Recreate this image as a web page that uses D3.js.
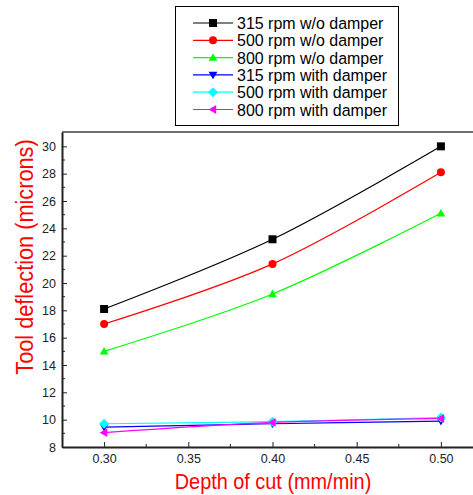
<!DOCTYPE html>
<html>
<head>
<meta charset="utf-8">
<script src="https://cdn.jsdelivr.net/npm/d3@7"></script>
<style>
  body { margin: 0; background: #fff; }
  text { font-family: Arial, "Liberation Sans", sans-serif; }
</style>
</head>
<body>
<div id="chart"></div>
<script>
// depth of cut values on the x axis
var depths = [0.30, 0.40, 0.50];

// series names, in legend order
var seriesNames = ["315 rpm w/o damper", "500 rpm w/o damper", "800 rpm w/o damper",
  "315 rpm with damper", "500 rpm with damper", "800 rpm with damper"];

// tool deflection (microns), one array per series
var rpm315NoDamper = [18.1, 23.2, 30.0];
var rpm500NoDamper = [17.0, 21.4, 28.1];
var rpm800NoDamper = [15.0, 19.2, 25.1];
var rpm315Damper = [9.45, 9.7, 9.9];
var rpm500Damper = [9.7, 9.85, 10.15];
var rpm800Damper = [9.05, 9.8, 10.1];

var xTickValues = [0.30, 0.35, 0.40, 0.45, 0.50];
var yTickValues = [8, 10, 12, 14, 16, 18, 20, 22, 24, 26, 28, 30];

var width = 473;
var height = 495;

// the original uses a narrow font, so text is squeezed a bit
var squeeze = 0.88;

var colors = ["#000000", "#ff0000", "#00ff00", "#0000ff", "#00ffff", "#ff00ff"];
var symbols = ["square", "circle", "triUp", "triDown", "diamond", "triLeft"];
var allValues = [rpm315NoDamper, rpm500NoDamper, rpm800NoDamper, rpm315Damper, rpm500Damper, rpm800Damper];

var series = seriesNames.map(function(name, i) {
  return {
    name: name,
    color: colors[i],
    symbol: symbols[i],
    points: depths.map(function(d, j) { return { x: d, y: allValues[i][j] }; })
  };
});

var svg = d3.select("#chart")
  .append("svg")
  .attr("width", width)
  .attr("height", height);

// scales (plot frame runs past the right edge of the picture)
var xScale = d3.scaleLinear().domain([0.275, 0.525]).range([62, 483]);
var yScale = d3.scaleLinear().domain([8, 31.05]).range([447, 132]);

// frame top
svg.append("line")
  .attr("x1", 62).attr("x2", 483)
  .attr("y1", 132).attr("y2", 132)
  .attr("stroke", "#707070").attr("stroke-width", 2);

// minor ticks
var yMinor = d3.range(9, 31, 2);
svg.append("g")
  .selectAll("line")
  .data(yMinor)
  .enter()
  .append("line")
  .attr("x1", 62).attr("x2", 65)
  .attr("y1", function(d) { return yScale(d); })
  .attr("y2", function(d) { return yScale(d); })
  .attr("stroke", "#222").attr("stroke-width", 1);

var xMinor = [0.325, 0.375, 0.425, 0.475];
svg.append("g")
  .selectAll("line")
  .data(xMinor)
  .enter()
  .append("line")
  .attr("x1", function(d) { return xScale(d); })
  .attr("x2", function(d) { return xScale(d); })
  .attr("y1", 447).attr("y2", 444)
  .attr("stroke", "#222").attr("stroke-width", 1);

// axes
var xAxis = d3.axisBottom(xScale)
  .tickValues(xTickValues)
  .tickFormat(d3.format(".2f"))
  .tickSizeInner(-5)
  .tickSizeOuter(0)
  .tickPadding(7);

var yAxis = d3.axisLeft(yScale)
  .tickValues(yTickValues)
  .tickFormat(d3.format("d"))
  .tickSizeInner(-5)
  .tickSizeOuter(0)
  .tickPadding(6);

var gx = svg.append("g")
  .attr("transform", "translate(0,447)")
  .call(xAxis);

var gy = svg.append("g")
  .attr("transform", "translate(62,0)")
  .call(yAxis);

[gx, gy].forEach(function(g) {
  g.select(".domain").attr("stroke", "#222").attr("stroke-width", 2);
  g.selectAll(".tick line").attr("stroke", "#222").attr("stroke-width", 1);
  g.selectAll(".tick text")
    .attr("fill", "#222")
    .style("font-size", "12.5px")
    .style("font-family", "Arial, 'Liberation Sans', sans-serif");
});

// symbol drawing
function symbolPath(type, s) {
  if (type === "square") return "M" + (-s) + "," + (-s) + "h" + (2 * s) + "v" + (2 * s) + "h" + (-2 * s) + "Z";
  if (type === "triUp") return "M0," + (-s * 1.1) + "L" + (s * 1.1) + "," + (s * 0.8) + "L" + (-s * 1.1) + "," + (s * 0.8) + "Z";
  if (type === "triDown") return "M0," + (s * 1.1) + "L" + (s * 1.1) + "," + (-s * 0.8) + "L" + (-s * 1.1) + "," + (-s * 0.8) + "Z";
  if (type === "triLeft") return "M" + (-s * 1.1) + ",0L" + (s * 0.8) + "," + (-s * 1.1) + "L" + (s * 0.8) + "," + (s * 1.1) + "Z";
  if (type === "diamond") return "M0," + (-s * 1.25) + "L" + (s * 1.25) + ",0L0," + (s * 1.25) + "L" + (-s * 1.25) + ",0Z";
  return "M" + (-s) + ",0a" + s + "," + s + " 0 1,0 " + (2 * s) + ",0a" + s + "," + s + " 0 1,0 " + (-2 * s) + ",0";
}

var line = d3.line()
  .x(function(d) { return xScale(d.x); })
  .y(function(d) { return yScale(d.y); })
  .curve(d3.curveCardinal);

// lines
svg.append("g")
  .selectAll("path")
  .data(series)
  .enter()
  .append("path")
  .attr("d", function(d) { return line(d.points); })
  .attr("fill", "none")
  .attr("stroke", function(d) { return d.color; })
  .attr("stroke-width", 1.2);

// markers
series.forEach(function(s) {
  svg.append("g")
    .selectAll("path")
    .data(s.points)
    .enter()
    .append("path")
    .attr("transform", function(d) { return "translate(" + xScale(d.x) + "," + yScale(d.y) + ")"; })
    .attr("d", symbolPath(s.symbol, 4))
    .attr("fill", s.color);
});

// legend
var legend = svg.append("g");
legend.append("rect")
  .attr("x", 175.5).attr("y", 6.5)
  .attr("width", 223).attr("height", 119)
  .attr("fill", "#fff")
  .attr("stroke", "#000").attr("stroke-width", 1);

var rows = legend.selectAll("g.row")
  .data(series)
  .enter()
  .append("g")
  .attr("class", "row")
  .attr("transform", function(d, i) { return "translate(0," + (23 + i * 17.3) + ")"; });

rows.append("line")
  .attr("x1", 193).attr("x2", 233)
  .attr("stroke", function(d) { return d.color; })
  .attr("stroke-width", 1.2);

rows.append("path")
  .attr("transform", "translate(213,0)")
  .attr("d", function(d) { return symbolPath(d.symbol, 4); })
  .attr("fill", function(d) { return d.color; });

rows.append("text")
  .attr("transform", "translate(237,6) scale(0.94,1)")
  .style("font-size", "17px")
  .attr("fill", "#000")
  .text(function(d) { return d.name; });

// axis titles
svg.append("text")
  .attr("transform", "translate(273,489) scale(" + squeeze + ",1)")
  .attr("text-anchor", "middle")
  .attr("fill", "#ff0000")
  .style("font-size", "22.6px")
  .text("Depth of cut (mm/min)");

svg.append("text")
  .attr("transform", "translate(33,257) rotate(-90) scale(" + squeeze + ",1)")
  .attr("text-anchor", "middle")
  .attr("fill", "#ff0000")
  .style("font-size", "24.7px")
  .text("Tool deflection (microns)");
</script>
</body>
</html>
